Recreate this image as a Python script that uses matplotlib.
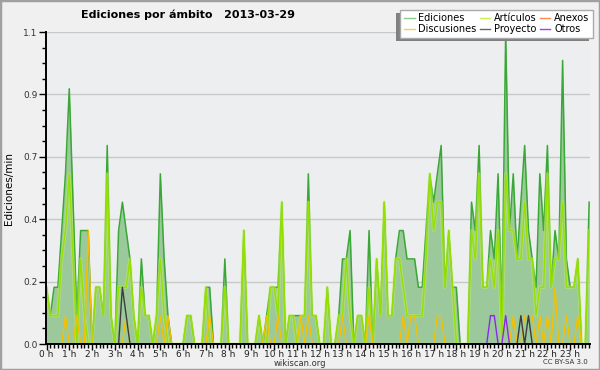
import numpy as np
import matplotlib
matplotlib.use('Agg')
import matplotlib.pyplot as plt
from matplotlib.patches import Rectangle
from matplotlib.ticker import FixedLocator, MultipleLocator

# 10-minute bins over the day, values in edits/min
ediciones = [0.2, 0.1, 0.2, 0.2, 0.4, 0.6, 0.9, 0.5, 0.1, 0.4, 0.4, 0.4,
             0.0, 0.2, 0.2, 0.1, 0.7, 0.1, 0.0, 0.4, 0.5, 0.4, 0.3, 0.1,
             0.0, 0.3, 0.1, 0.1, 0.0, 0.1, 0.6, 0.3, 0.1, 0.0, 0.0, 0.0,
             0.0, 0.1, 0.1, 0.0, 0.0, 0.0, 0.2, 0.2, 0.0, 0.0, 0.0, 0.3,
             0.0, 0.0, 0.0, 0.0, 0.4, 0.0, 0.0, 0.0, 0.1, 0.0, 0.1, 0.2,
             0.2, 0.2, 0.5, 0.0, 0.1, 0.1, 0.1, 0.1, 0.1, 0.6, 0.1, 0.1,
             0.0, 0.0, 0.2, 0.0, 0.0, 0.1, 0.3, 0.3, 0.4, 0.0, 0.1, 0.1,
             0.0, 0.4, 0.0, 0.3, 0.1, 0.5, 0.1, 0.1, 0.3, 0.4, 0.4, 0.3,
             0.3, 0.3, 0.2, 0.2, 0.4, 0.6, 0.5, 0.6, 0.7, 0.2, 0.4, 0.2,
             0.2, 0.0, 0.0, 0.0, 0.5, 0.4, 0.7, 0.2, 0.2, 0.4, 0.3, 0.6,
             0.1, 1.1, 0.4, 0.6, 0.3, 0.5, 0.7, 0.4, 0.3, 0.2, 0.6, 0.4,
             0.7, 0.2, 0.4, 0.3, 1.0, 0.3, 0.2, 0.2, 0.3, 0.0, 0.0, 0.5]

articulos = [0.2, 0.1, 0.1, 0.1, 0.3, 0.4, 0.6, 0.3, 0.0, 0.3, 0.1, 0.0,
             0.0, 0.2, 0.2, 0.1, 0.6, 0.1, 0.0, 0.2, 0.2, 0.2, 0.3, 0.1,
             0.0, 0.2, 0.1, 0.1, 0.0, 0.1, 0.3, 0.1, 0.0, 0.0, 0.0, 0.0,
             0.0, 0.1, 0.1, 0.0, 0.0, 0.0, 0.2, 0.0, 0.0, 0.0, 0.0, 0.2,
             0.0, 0.0, 0.0, 0.0, 0.4, 0.0, 0.0, 0.0, 0.1, 0.0, 0.0, 0.2,
             0.2, 0.1, 0.5, 0.0, 0.1, 0.1, 0.0, 0.1, 0.1, 0.5, 0.1, 0.1,
             0.0, 0.0, 0.2, 0.0, 0.0, 0.1, 0.1, 0.3, 0.1, 0.0, 0.1, 0.1,
             0.0, 0.2, 0.0, 0.3, 0.1, 0.5, 0.1, 0.1, 0.3, 0.3, 0.2, 0.1,
             0.1, 0.1, 0.1, 0.1, 0.3, 0.6, 0.4, 0.5, 0.5, 0.2, 0.4, 0.2,
             0.0, 0.0, 0.0, 0.0, 0.4, 0.3, 0.6, 0.2, 0.2, 0.3, 0.2, 0.4,
             0.0, 0.6, 0.4, 0.4, 0.3, 0.3, 0.5, 0.3, 0.3, 0.1, 0.2, 0.2,
             0.6, 0.2, 0.3, 0.3, 0.5, 0.2, 0.2, 0.2, 0.3, 0.0, 0.0, 0.4]

# sparse series: bin index -> value
discusiones_pts = {5: 0.1, 8: 0.1, 11: 0.4, 21: 0.1, 30: 0.1, 32: 0.1, 43: 0.1,
                   58: 0.1, 61: 0.1, 67: 0.1, 69: 0.1, 78: 0.1, 85: 0.1, 94: 0.1,
                   96: 0.1, 97: 0.1, 103: 0.1, 104: 0.1, 123: 0.1, 126: 0.1,
                   127: 0.1, 128: 0.1, 130: 0.1, 132: 0.1, 134: 0.2, 137: 0.1,
                   140: 0.1}
proyecto_pts = {20: 0.2, 21: 0.1, 125: 0.1, 127: 0.1}
otros_pts = {117: 0.1, 118: 0.1, 121: 0.1}
anexos_pts = {}

hour_labels = ['%d h' % h for h in range(24)]
ytick_vals = [0, 0.22, 0.44, 0.66, 0.88, 1.1]
ytick_labels = ['0.0', '0.2', '0.4', '0.7', '0.9', '1.1']


def expand(pts, n=144):
    arr = np.zeros(n)
    for k, v in pts.items():
        arr[k] = v
    return arr


t = np.arange(144) / 6.0
ediciones = np.array(ediciones)
articulos = np.array(articulos)
discusiones = expand(discusiones_pts)
proyecto = expand(proyecto_pts)
otros = expand(otros_pts)
anexos = expand(anexos_pts)

fig = plt.figure(figsize=(6, 3.7), dpi=100, facecolor='#f0f0f0')
ax = fig.add_axes([46 / 600, 1 - 344 / 370, 544 / 600, 312 / 370])
ax.set_facecolor('#edeef0')

ax.fill_between(t, ediciones, color='#9cc99c', lw=0, zorder=1)
ax.plot(t, ediciones, color='#3aa836', lw=1.1, zorder=2)
ax.plot(t, articulos, color='#c6f25a', lw=2.4, alpha=0.45, zorder=2.1)
ax.plot(t, articulos, color='#96e000', lw=1.0, zorder=2.2)
ax.plot(t, anexos, color='#ff7f50', lw=1.0, zorder=2.3)
ax.plot(t, discusiones, color='#f5c000', lw=1.0, zorder=2.4)
ax.plot(t, proyecto, color='#3c3c3c', lw=1.0, zorder=2.5)
ax.plot(t, otros, color='#8a2be2', lw=1.0, zorder=2.6)

ax.set_xlim(-0.022, 23.87)
ax.set_ylim(0, 1.1)

ax.set_xticks(range(24))
ax.set_xticklabels(hour_labels, fontsize=6.5, color='#222222')
ax.xaxis.set_minor_locator(MultipleLocator(1 / 6))
ax.set_yticks(ytick_vals)
ax.set_yticklabels(ytick_labels, fontsize=6.5, color='#333333')
ax.yaxis.set_minor_locator(FixedLocator(np.arange(0, 1.11, 0.055)))
ax.tick_params(axis='x', which='major', length=4, width=1, pad=0)
ax.tick_params(axis='x', which='minor', length=3, width=1)
ax.tick_params(axis='y', which='major', length=5, width=1, pad=1)
ax.tick_params(axis='y', which='minor', length=3, width=1)

ax.yaxis.grid(True, color='#c8c8c8', lw=1)
ax.set_axisbelow(True)
for s in ['top', 'right']:
    ax.spines[s].set_visible(False)
for s in ['left', 'bottom']:
    ax.spines[s].set_linewidth(1.4)
    ax.spines[s].set_zorder(5)

ax.set_ylabel('Ediciones/min', fontsize=7.5)
ax.yaxis.set_label_coords(-0.058, 0.5)

fig.text(188 / 600, 1 - 15 / 370, 'Ediciones por ámbito   2013-03-29',
         fontsize=8, fontweight='bold', ha='center', va='center')
fig.text(300 / 600, 1 - 368 / 370, 'wikiscan.org', fontsize=6,
         color='#333333', ha='center', va='bottom')
fig.text(565 / 600, 1 - 362 / 370, 'CC BY-SA 3.0', fontsize=5,
         color='#333333', ha='center', va='center')

# legend with lighter swatches, like the original
handles = [plt.Line2D([], [], color=c, lw=1) for c in
           ['#88cc88', '#ffcc44', '#ccee55', '#666666', '#ff8855', '#9944ee']]
labels = ['Ediciones', 'Discusiones', 'Artículos', 'Proyecto', 'Anexos', 'Otros']
leg = fig.legend(handles, labels, ncol=3, loc='upper right',
                 bbox_to_anchor=(593 / 600, 1 - 10 / 370), fontsize=7,
                 frameon=True, fancybox=False, framealpha=1, edgecolor='#aaaaaa',
                 handlelength=1.1, handletextpad=0.4, columnspacing=0.3,
                 labelspacing=0.1, borderpad=0.35, borderaxespad=0)
leg.get_frame().set_linewidth(1)

# shadow behind the legend box (offset left/down)
fig.canvas.draw()
bb = leg.get_window_extent()
inv = fig.transFigure.inverted()
(x0, y0), (x1, y1) = inv.transform([(bb.x0 - 4, bb.y0 - 3), (bb.x1 - 4, bb.y1 - 3)])
fig.patches.append(Rectangle((x0, y0), x1 - x0, y1 - y0, transform=fig.transFigure,
                             facecolor='#808080', edgecolor='none', zorder=1))

# outer border
fig.patches.append(Rectangle((0, 0), 1, 1, transform=fig.transFigure,
                             facecolor='none', edgecolor='#a0a0a0', lw=2.5, zorder=0))

fig.savefig('out.png', dpi=100, facecolor=fig.get_facecolor())
